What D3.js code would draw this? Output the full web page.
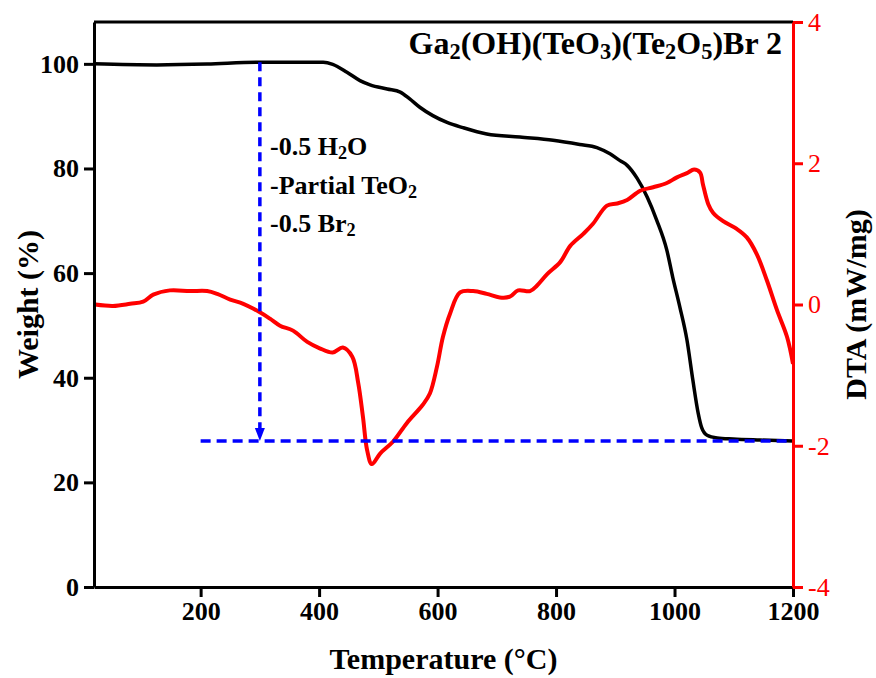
<!DOCTYPE html>
<html><head><meta charset="utf-8">
<script src="https://cdn.jsdelivr.net/npm/d3@7"></script>
<style>
html,body{margin:0;padding:0;background:#fff;}
svg{display:block;font-family:"Liberation Serif","Times New Roman",serif;}
</style></head>
<body><svg id="chart" width="876" height="678"></svg>
<script>
// ---- data ----
const tempTGA = [20,126,211,295,407,423,447,469,486,515,537,553,570,592,616,643,683,739,795,840,869,891,908,920,937,954,970,987,997,1009,1021,1031,1040,1046,1055,1072,1099,1144,1200];
const weight  = [100.0,99.8,99.95,100.3,100.3,99.9,98.4,96.8,96.0,95.2,94.6,93.3,91.7,90.1,88.8,87.8,86.6,86.0,85.4,84.6,84.0,82.8,81.5,80.6,78.1,74.5,70.1,64.4,59.2,53.5,47.2,39.5,33.2,30.4,29.0,28.5,28.3,28.1,27.9];
const tempDTA = [22,52,81,103,120,148,182,211,228,250,272,300,317,334,356,380,401,423,440,456,466,474,481,489,503,525,548,575,587,599,609,621,638,660,683,705,722,736,756,768,785,807,824,846,862,886,903,920,942,964,987,1004,1021,1033,1043,1048,1057,1065,1082,1105,1122,1139,1156,1173,1190,1200];
const dta     = [0,-0.02,0.01,0.04,0.14,0.20,0.19,0.19,0.15,0.07,0.01,-0.11,-0.20,-0.30,-0.37,-0.53,-0.62,-0.68,-0.61,-0.74,-1.11,-1.59,-2.06,-2.26,-2.11,-1.94,-1.68,-1.42,-1.26,-0.88,-0.46,-0.13,0.17,0.19,0.15,0.10,0.11,0.20,0.19,0.27,0.43,0.60,0.83,1.00,1.14,1.40,1.43,1.48,1.61,1.66,1.72,1.80,1.86,1.91,1.87,1.70,1.42,1.30,1.18,1.07,0.95,0.71,0.34,-0.08,-0.46,-0.84];
const xTicks = [200,400,600,800,1000,1200];
const yLeftTicks = [0,20,40,60,80,100];
const yRightTicks = [-4,-2,0,2,4];
const xDomain = [20,1200];
const yLeftDomain = [0,108];
const yRightDomain = [-4,4];
// annotation values
const arrowTemp = 300, arrowTop = 100.3, arrowBottom = 27.9;
const hLineFrom = 200, hLineTo = 1200, hLineW = 27.9;
const titleParts = [["Ga",0],["2",1],["(OH)(TeO",0],["3",1],[")(Te",0],["2",1],["O",0],["5",1],[")Br 2",0]];
const noteLines = [
  [["-0.5 H",0],["2",1],["O",0]],
  [["-Partial TeO",0],["2",1]],
  [["-0.5 Br",0],["2",1]]
];

// ---- layout ----
const svg = d3.select("#chart");
const m = {l:94, r:83, t:22, b:91};
const W = 876, H = 678;
const x = d3.scaleLinear().domain(xDomain).range([m.l, W - m.r]);
const yL = d3.scaleLinear().domain(yLeftDomain).range([H - m.b, m.t]);
const yR = d3.scaleLinear().domain(yRightDomain).range([H - m.b, m.t]);
const fmt = d => String(d);

// top frame line
svg.append("line").attr("x1", m.l).attr("x2", W - m.r).attr("y1", m.t).attr("y2", m.t)
  .attr("stroke", "#000").attr("stroke-width", 3);

// curves
const tgaData = tempTGA.map((t,i)=>[t, weight[i]]);
const dtaData = tempDTA.map((t,i)=>[t, dta[i]]);
svg.append("path").datum(tgaData)
  .attr("d", d3.line().x(d=>x(d[0])).y(d=>yL(d[1])).curve(d3.curveMonotoneX))
  .attr("fill","none").attr("stroke","#000").attr("stroke-width",3.5).attr("stroke-linejoin","round");
svg.append("path").datum(dtaData)
  .attr("d", d3.line().x(d=>x(d[0])).y(d=>yR(d[1])).curve(d3.curveCatmullRom.alpha(0.5)))
  .attr("fill","none").attr("stroke","#ff0000").attr("stroke-width",4).attr("stroke-linejoin","round");

// blue dashed lines
svg.append("line").attr("x1", x(hLineFrom)).attr("x2", x(hLineTo)).attr("y1", yL(hLineW)).attr("y2", yL(hLineW))
  .attr("stroke","#0000ff").attr("stroke-width",3.5).attr("stroke-dasharray","10,6");
svg.append("line").attr("x1", x(arrowTemp)).attr("x2", x(arrowTemp)).attr("y1", yL(arrowTop)).attr("y2", yL(arrowBottom) - 10)
  .attr("stroke","#0000ff").attr("stroke-width",3.5).attr("stroke-dasharray","9,6");
{
  const ax = x(arrowTemp), ay = yL(arrowBottom);
  svg.append("path").attr("d", `M${ax-5},${ay-13} L${ax+5},${ay-13} L${ax},${ay} Z`).attr("fill","#0000ff");
}

// axes
const axStyle = (g, color) => {
  g.selectAll("path.domain").attr("stroke", color).attr("stroke-width", 3);
  g.selectAll(".tick line").attr("stroke", color).attr("stroke-width", 3);
};
const gx = svg.append("g").attr("transform", `translate(0,${H - m.b})`)
  .call(d3.axisBottom(x).tickValues(xTicks).tickFormat(fmt).tickSize(10).tickPadding(5).tickSizeOuter(0));
axStyle(gx, "#000");
gx.selectAll("text").attr("font-size", 26).attr("font-weight","bold").attr("fill","#000").attr("font-family","Liberation Serif");

const gl = svg.append("g").attr("transform", `translate(${m.l},0)`)
  .call(d3.axisLeft(yL).tickValues(yLeftTicks).tickFormat(fmt).tickSize(10).tickPadding(5).tickSizeOuter(0));
axStyle(gl, "#000");
gl.selectAll("text").attr("font-size", 26).attr("font-weight","bold").attr("fill","#000").attr("font-family","Liberation Serif");

const gr = svg.append("g").attr("transform", `translate(${W - m.r},0)`)
  .call(d3.axisRight(yR).tickValues(yRightTicks).tickFormat(fmt).tickSize(10).tickPadding(5).tickSizeOuter(0));
axStyle(gr, "#ff0000");
gr.selectAll("text").attr("font-size", 26).attr("fill","#ff0000").attr("font-family","Liberation Serif");

// axis titles
svg.append("text").attr("x", (m.l + W - m.r)/2).attr("y", 669).attr("text-anchor","middle")
  .attr("font-size", 30).attr("font-weight","bold").text("Temperature (°C)");
svg.append("text").attr("transform", `translate(38,${(m.t + H - m.b)/2}) rotate(-90)`).attr("text-anchor","middle")
  .attr("font-size", 30).attr("font-weight","bold").text("Weight (%)");
svg.append("text").attr("transform", `translate(866,${(m.t + H - m.b)/2}) rotate(-90)`).attr("text-anchor","middle")
  .attr("font-size", 30).attr("font-weight","bold").text("DTA (mW/mg)");

// rich text helper
function rich(sel, parts, size) {
  parts.forEach(([s, sub]) => {
    const t = sel.append("tspan").text(s);
    if (sub) t.attr("font-size", size*0.7).attr("baseline-shift", "-22%");
  });
}
const title = svg.append("text").attr("x", 782).attr("y", 54).attr("text-anchor","end")
  .attr("font-size", 32).attr("font-weight","bold");
rich(title, titleParts, 32);

const noteY = [155, 194, 232];
noteLines.forEach((ln, i) => {
  const t = svg.append("text").attr("x", 270).attr("y", noteY[i]).attr("font-size", 26).attr("font-weight","bold");
  rich(t, ln, 26);
});
</script></body></html>
